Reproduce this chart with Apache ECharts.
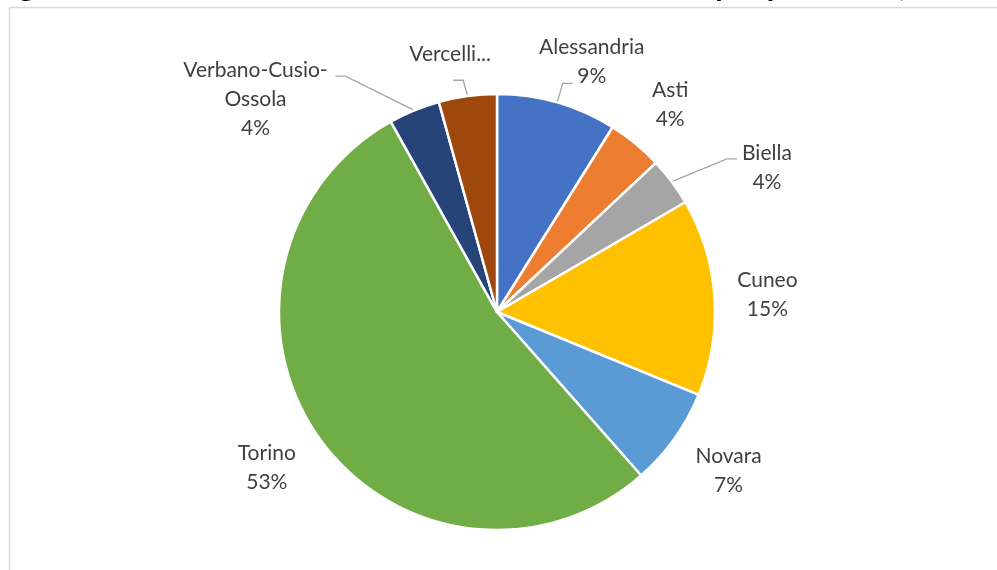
<!DOCTYPE html>
<html>
<head>
<meta charset="utf-8">
<script src="https://cdn.jsdelivr.net/npm/echarts@6/dist/echarts.min.js"></script>
<style>
  html, body { margin: 0; padding: 0; background: #fff; }
  #chart { width: 997px; height: 570px; }
</style>
</head>
<body>
<div id="chart"></div>
<script>
// province shares (%), clockwise from 12 o'clock
const categories = ['Alessandria', 'Asti', 'Biella', 'Cuneo', 'Novara', 'Torino', 'Verbano-Cusio-Ossola', 'Vercelli'];
const shares = [8.9, 4.1, 3.6, 14.6, 7.3, 53.4, 3.8, 4.3];
const colors = ['#4472C4', '#ED7D31', '#A5A5A5', '#FFC000', '#5B9BD5', '#70AD47', '#264478', '#9E480E'];

// where each label sits around the pie: angle (deg, clockwise from top), distance from centre,
// and optional leader-line end relative to the label centre
const labelPlace = {
  'Alessandria': { angle: 20.7, dist: 268, line: [-19, 22] },
  'Asti': { angle: 39.9, dist: 270 },
  'Biella': { angle: 61.9, dist: 306, line: [-30, -9] },
  'Cuneo': { angle: 86.4, dist: 271 },
  'Novara': { angle: 124.5, dist: 281 },
  'Torino': { angle: 235.9, dist: 278 },
  'Verbano-Cusio-Ossola': { angle: 311.4, dist: 322, line: [80, -23] },
  'Vercelli': { angle: 349.7, dist: 262, line: [3, 26] }
};

const centerPct = [49.85, 54.74];

let chart = echarts.init(document.getElementById('chart'), null, { renderer: 'canvas' });

chart.setOption({
  animation: false,
  color: colors,
  graphic: [
    {
      type: 'rect',
      shape: { x: 9.5, y: 7.5, width: 1000, height: 600 },
      style: { fill: 'none', stroke: '#d9d9d9', lineWidth: 1.5 },
      silent: true
    },
    {
      // title sits mostly above the visible area, only descenders show
      type: 'text',
      left: -6,
      top: -29,
      style: {
        text: 'Figura 3 – Distribuzione delle strutture ricettive attive per provincia (valori assoluti)',
        font: 'bold 30px Lato',
        fill: '#000'
      },
      silent: true
    }
  ],
  series: [
    {
      type: 'pie',
      center: [centerPct[0] + '%', centerPct[1] + '%'],
      radius: 218,
      startAngle: 90,
      clockwise: true,
      percentPrecision: 0,
      avoidLabelOverlap: false,
      itemStyle: { borderColor: '#fff', borderWidth: 2.5 },
      label: {
        show: true,
        position: 'outside',
        color: '#404040',
        fontFamily: 'Lato',
        fontSize: 21,
        lineHeight: 29,
        formatter: function (p) {
          if (p.name === 'Vercelli') return 'Vercelli...';
          return p.name.replace('Cusio-', 'Cusio-\n') + '\n' + p.percent + '%';
        }
      },
      labelLine: {
        show: true,
        length: 10,
        length2: 10,
        lineStyle: { color: '#a6a6a6', width: 1.3 }
      },
      labelLayout: function (params) {
        const name = categories[params.dataIndex];
        const pl = labelPlace[name];
        const cx = chart.getWidth() * centerPct[0] / 100;
        const cy = chart.getHeight() * centerPct[1] / 100;
        const a = pl.angle * Math.PI / 180;
        const x = cx + pl.dist * Math.sin(a);
        const y = cy - pl.dist * Math.cos(a);
        const res = { x: x, y: y, align: 'center', verticalAlign: 'middle' };
        if (pl.line && params.labelLinePoints) {
          const s = params.labelLinePoints[0];
          const e = [x + pl.line[0], y + pl.line[1]];
          const elbowX = e[0] + (s[0] > e[0] ? 10 : -10);
          res.labelLinePoints = [s, [elbowX, e[1]], e];
        }
        return res;
      },
      data: categories.map(function (c, i) {
        return {
          name: c,
          value: shares[i],
          labelLine: { show: !!labelPlace[c].line }
        };
      })
    }
  ]
});
</script>
</body>
</html>
